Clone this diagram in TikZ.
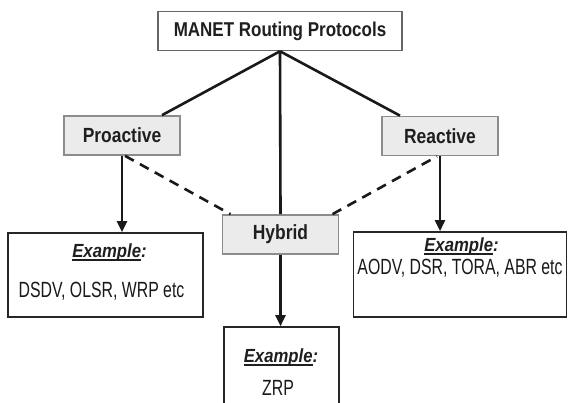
\documentclass[tikz,border=0pt]{standalone}
\usepackage{fontspec}
\setmainfont{Liberation Sans}
\newfontfamily\headfont[FakeStretch=0.85]{Liberation Sans}
\newfontfamily\bodyfont[FakeStretch=0.72]{Liberation Sans}
\newfontfamily\exfont[FakeStretch=0.88]{Liberation Sans}
\usetikzlibrary{arrows.meta}
\newcommand\myul[1]{{\setbox0\hbox{#1}\rlap{\rule[-3.6pt]{\wd0}{1.8pt}}\box0}}
\begin{document}
\begin{tikzpicture}[x=1pt,y=-1pt,
  topbox/.style={draw=black!60, fill=white, line width=1.5pt, minimum width=244pt, minimum height=39pt, inner sep=0pt, text=black!88, font=\headfont\bfseries\fontsize{20}{24}\selectfont},
  catbox/.style={draw=black!45, fill=black!8, line width=1.7pt, minimum width=116pt, minimum height=39pt, inner sep=0pt, text=black!88, font=\headfont\bfseries\fontsize{20.5}{24}\selectfont},
  exbox/.style={draw=black!85, line width=1.6pt, inner sep=0pt},
  extitle/.style={anchor=base, inner sep=0pt, text=black!88, font=\exfont\bfseries\itshape\fontsize{19}{22}\selectfont},
  exbody/.style={anchor=base, inner sep=0pt, text=black!90, font=\bodyfont\fontsize{22}{26}\selectfont},
  link/.style={line width=2.6pt, black!90},
  arr/.style={line width=2.4pt, black!90, -{Triangle[length=11pt,width=10pt]}},
  dashlink/.style={line width=2.6pt, black!90, dash pattern=on 10pt off 7pt}
]
\clip (0,0) rectangle (569,402);
\fill[white] (0,0) rectangle (569,402);
% nodes
\node[topbox] (top) at (280,31) {MANET Routing Protocols};
\node[catbox] (pro) at (122,135.5) {Proactive};
\node[catbox] (rea) at (440,136) {Reactive};
\node[catbox] (hyb) at (280.5,234.5) {Hybrid};
\node[exbox, minimum width=195pt, minimum height=84pt] (exL) at (105.5,275) {};
\node[exbox, minimum width=213pt, minimum height=85pt] (exR) at (460,274.5) {};
\node[exbox, minimum width=115pt, minimum height=100pt] (exM) at (281.5,377) {};
% texts in example boxes
\node[extitle] (exLt) at (109.5,257) {\myul{Example}:};
\node[exbody] (exLb) at (101.5,297) {DSDV, OLSR, WRP etc};
\node[extitle] (exRt) at (461.5,251) {\myul{Example}:};
\node[exbody] (exRb) at (460,274) {AODV, DSR, TORA, ABR etc};
\node[extitle] (exMt) at (281,362) {\myul{Example}:};
\node[exbody] (exMb) at (278,395) {ZRP};
% connectors
\draw[link] (top.south) -- ([xshift=40pt]pro.north);
\draw[link] (top.south) -- ([xshift=-40pt]rea.north);
\draw[link] (top.south) -- (hyb.north);
\draw[arr] (pro.south) -- (pro.south |- exL.north);
\draw[arr] (rea.south) -- (rea.south |- exR.north);
\draw[arr] (hyb.south) -- (hyb.south |- exM.north);
\draw[dashlink] ([xshift=3pt]pro.south) -- ([xshift=-50pt]hyb.north);
\draw[dashlink] ([xshift=52pt]hyb.north) -- ([xshift=-3pt]rea.south);
\end{tikzpicture}
\end{document}
